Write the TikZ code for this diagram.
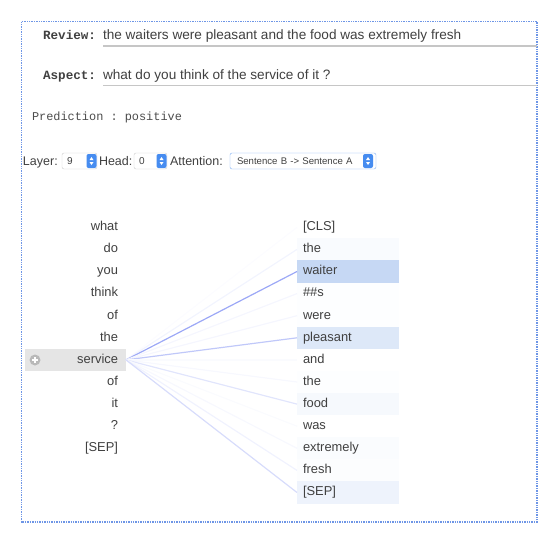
\documentclass[tikz,border=0pt]{standalone}
\usepackage{fontspec}
\setmainfont{Liberation Sans}
\setmonofont{Liberation Mono}
\usetikzlibrary{positioning}
\definecolor{txt}{RGB}{64,64,64}
\definecolor{att}{RGB}{90,110,240}
\definecolor{hl}{RGB}{100,150,225}
\definecolor{frm}{RGB}{110,150,230}
\definecolor{spinblue}{RGB}{70,140,240}
\newcommand{\spin}[1]{%
  \fill[white] ([xshift=-2pt,yshift=1pt]#1.center) -- ([xshift=2pt,yshift=1pt]#1.center) -- ([yshift=4pt]#1.center) -- cycle;
  \fill[white] ([xshift=-2pt,yshift=-1pt]#1.center) -- ([xshift=2pt,yshift=-1pt]#1.center) -- ([yshift=-4pt]#1.center) -- cycle;}

\begin{document}
\begin{tikzpicture}[x=1pt, y=-1pt, text=txt,
        every node/.style={inner sep=0pt, outer sep=0pt},
        tokA/.style={anchor=east, text width=85pt, align=right, inner xsep=8pt,
          minimum height=22.1pt, text height=9.2pt, text depth=2.6pt,
          font=\fontsize{12.9}{15}\selectfont},
        tokB/.style={anchor=west, text width=90pt, align=left, inner xsep=6pt,
          minimum height=22.1pt, text height=9.2pt, text depth=2.6pt,
          font=\fontsize{12.9}{15}\selectfont}]
      \tikzstyle{label} = [anchor=base east, font=\ttfamily\bfseries\fontsize{12.6}{15}\selectfont]
      \tikzstyle{field} = [anchor=base west, font=\fontsize{13.6}{16}\selectfont]
      \tikzstyle{ctrl} = [anchor=base west, font=\fontsize{12.5}{15}\selectfont]
      \tikzstyle{sel} = [anchor=west, draw=gray!40, fill=white, rounded corners=2pt,
        minimum height=16pt, inner xsep=5pt, align=left, text height=7pt, text depth=1pt,
        font=\fontsize{10}{12}\selectfont]
      \tikzstyle{spinbtn} = [anchor=east, fill=spinblue, rounded corners=2pt,
        minimum width=10pt, minimum height=14pt]
      \useasboundingbox (0,0) rectangle (547,538);
      \draw[frm, densely dotted, line width=1.4pt] (21.5,21.5) rectangle (537,522);
      % input fields
      \node (REVIEW) [label] at (96,39.5) {Review:};
      \node (review) [field] at (103,39.5) {the waiters were pleasant and the food was extremely fresh};
      \draw[gray!45, line width=1.6pt] (103,46) -- (537,46);
      \node (ASPECT) [label] at (96,79) {Aspect:};
      \node (aspect) [field] at (103,79) {what do you think of the service of it ?};
      \draw[gray!45, line width=1.6pt] (103,85.5) -- (537,85.5);
      \node (PRED) [anchor=base west, text=gray!60!black,
        font=\ttfamily\fontsize{11.9}{14}\selectfont] at (32,120) {Prediction : positive};
      % controls
      \node (LAYER) [ctrl] at (23,165.5) {Layer:};
      \node (layersel) [sel, text width=25pt] at (62,161) {9};
      \node (layerspin) [spinbtn] at ([xshift=-0.5pt]layersel.east) {};
      \spin{layerspin}
      \node (HEAD) [ctrl] at (99,165.5) {Head:};
      \node (headsel) [sel, text width=23pt] at (134,161) {0};
      \node (headspin) [spinbtn] at ([xshift=-0.5pt]headsel.east) {};
      \spin{headspin}
      \node (ATT) [ctrl] at (170,165.5) {Attention:};
      \node (attsel) [sel, draw=spinblue!70, inner xsep=7pt, text width=132pt,
        font=\fontsize{9.6}{12}\selectfont] at (230,161) {Sentence B -> Sentence A};
      \node (attspin) [spinbtn] at ([xshift=-3pt]attsel.east) {};
      \spin{attspin}
      % sentence A
      \foreach \w/\f [count=\i] in {what/0,do/0,you/0,think/0,of/0,the/0,service/20,of/0,it/0,?/0,[SEP]/0}
        \node (A\i) [tokA, fill=gray!\f] at (126,{227.3+(\i-1)*22.1}) {\w};
      \node (PLUS) [circle, fill=gray!55, minimum size=11pt] at (35,360) {};
      \draw[white, line width=1.6pt] ([xshift=-3pt]PLUS.center) -- ([xshift=3pt]PLUS.center)
        ([yshift=-3pt]PLUS.center) -- ([yshift=3pt]PLUS.center);
      % sentence B with attention
      \foreach \w/\b/\l [count=\i] in {[CLS]/0/2, the/4/8, waiter/37/60, \#\#s/1/6, were/1/6,
          pleasant/22/38, and/0/3, the/1/5, food/6/18, was/0/3, extremely/3/5, fresh/2/9, [SEP]/11/24}
      {
        \node (B\i) [tokB, fill=hl!\b] at (297,{227.3+(\i-1)*22.1}) {\w};
        \draw[att!\l!white, line width=1.2pt] (A7.east) -- (B\i.west);
      }
    \end{tikzpicture}
\end{document}
